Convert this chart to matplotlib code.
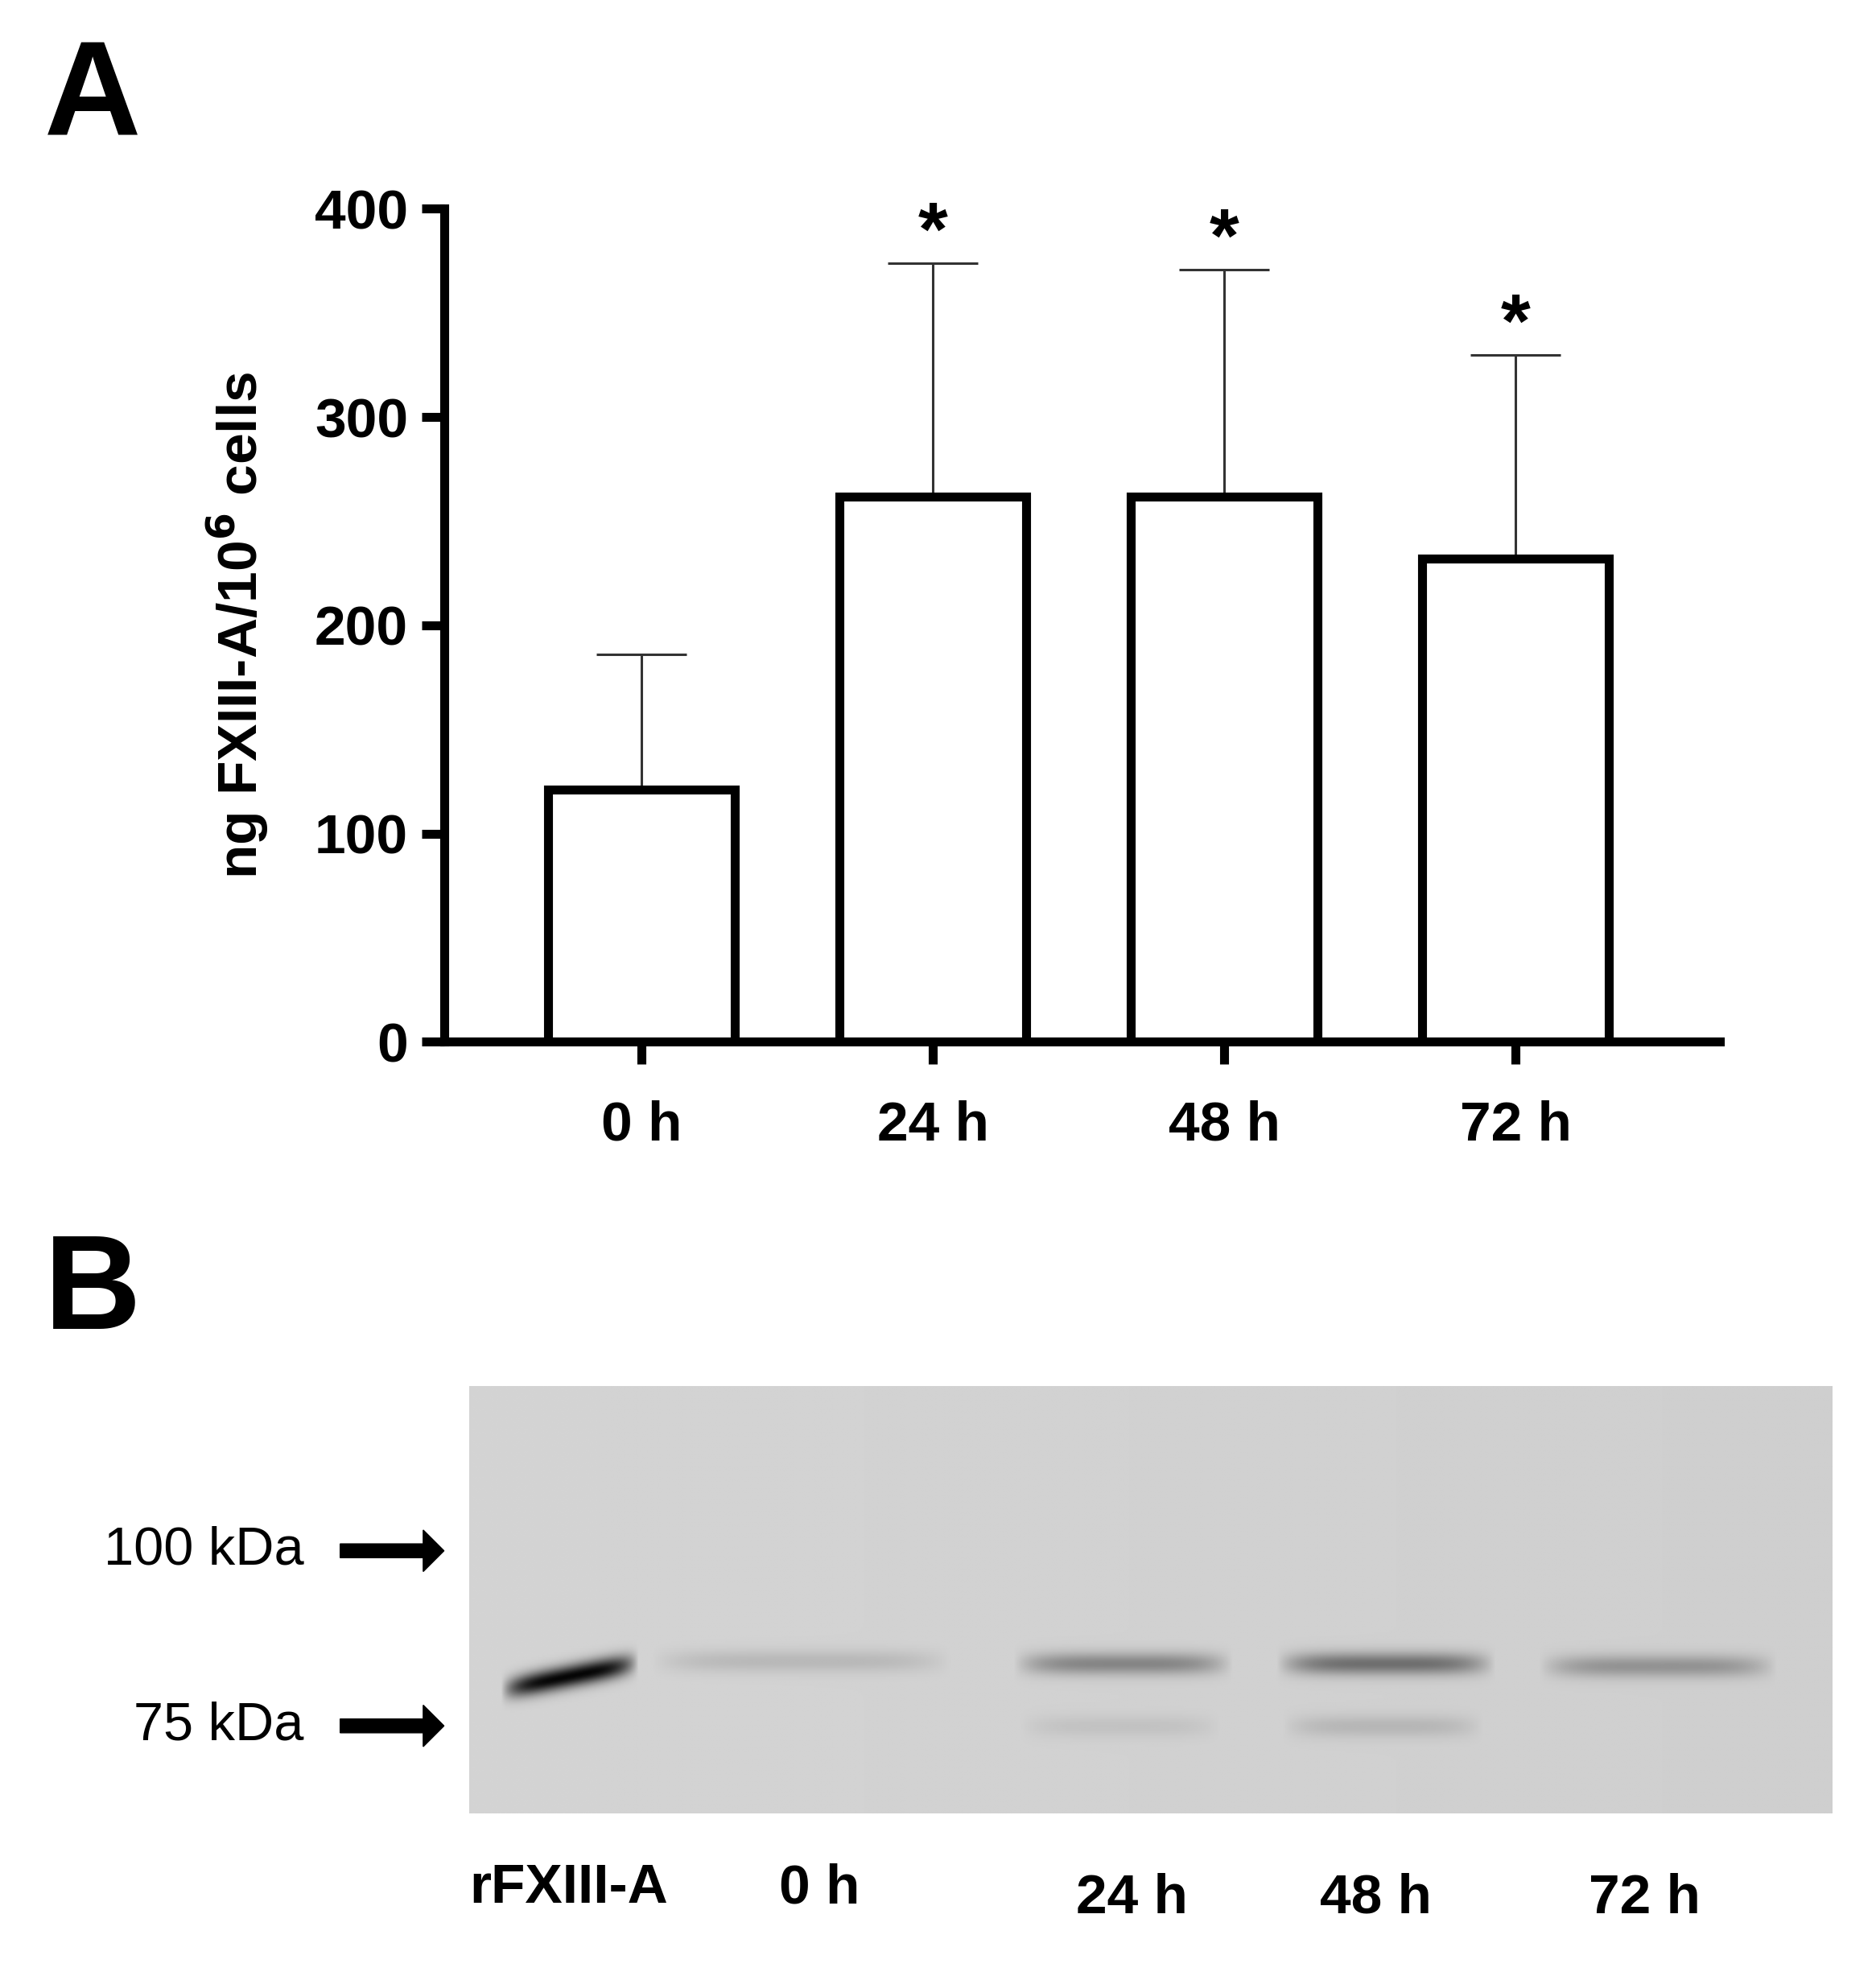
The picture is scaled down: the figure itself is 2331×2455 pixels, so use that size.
import matplotlib
matplotlib.use("Agg")
import matplotlib.pyplot as plt
import numpy as np

plt.rcParams["font.family"] = ["Liberation Sans", "DejaVu Sans"]
plt.rcParams["font.weight"] = "bold"
plt.rcParams["mathtext.default"] = "bf"

# panel A data
timepoints = ["0 h", "24 h", "48 h", "72 h"]
means = [121, 262, 262, 232]
sd_upper = [65, 112, 109, 98]
significant = [False, True, True, True]

# panel B gel: lane labels and band estimates (x-start, x-end, row, strength) in gel pixels
lane_labels = ["rFXIII-A", "0 h", "24 h", "48 h", "72 h"]
lane_label_x = [455, 655, 905, 1100, 1315]
bands = [
    (25, 135, 232, 0.95),
    (145, 385, 220, 0.12),
    (435, 610, 222, 0.35),
    (645, 820, 222, 0.45),
    (855, 1045, 224, 0.28),
    (440, 600, 272, 0.07),
    (650, 810, 272, 0.12),
]
markers = ["100 kDa", "75 kDa"]
marker_y = [1240, 1380]

W, H = 1500, 1580
fig = plt.figure(figsize=(23.31, 24.55), dpi=100)

def frac(x0, y0, x1, y1):
    return [x0 / W, 1 - y1 / H, (x1 - x0) / W, (y1 - y0) / H]

# ---- panel A
ax = fig.add_axes(frac(355, 167, 1375, 833))
pos = np.arange(len(means))
ax.bar(pos, means, width=0.64, facecolor="white", edgecolor="black", linewidth=8, zorder=3)
ax.errorbar(pos, means, yerr=[np.zeros(4), sd_upper], fmt="none", ecolor="#333333",
            elinewidth=2.2, capsize=40, capthick=2.2, zorder=2)
for p, m, s, sig in zip(pos, means, sd_upper, significant):
    if sig:
        ax.text(p, m + s - 4, "*", ha="center", va="bottom", fontsize=68)
ax.set_xlim(-0.678, 3.70)
ax.set_ylim(0, 400)
ax.set_yticks([0, 100, 200, 300, 400])
ax.set_xticks(pos)
ax.set_xticklabels(timepoints)
for s in ["top", "right"]:
    ax.spines[s].set_visible(False)
for s in ["left", "bottom"]:
    ax.spines[s].set_linewidth(8)
ax.tick_params(width=8, length=20, labelsize=50, pad=12)
ax.tick_params(axis="x", pad=32)
ax.set_ylabel("ng FXIII-A/10$^{6}$ cells", fontsize=50, fontweight="bold", labelpad=40)
fig.text(35 / W, 1 - 30 / H, "A", fontsize=120, va="top", ha="left")

# ---- panel B
gw, gh = 1090, 342
gy, gx = np.mgrid[0:gh, 0:gw]
img = np.full((gh, gw), 0.83) - 0.02 * gx / gw
for x0, x1, row, s in bands:
    cx, hw = (x0 + x1) / 2, (x1 - x0) / 2
    slope = -0.2 if x0 < 50 else 0.0
    r = row + slope * (gx - cx)
    prof = np.exp(-((gy - r) / 9.0) ** 2) * np.clip(1 - ((gx - cx) / hw) ** 4, 0, 1)
    img -= s * 0.85 * prof
img = np.clip(img, 0, 1)
gax = fig.add_axes(frac(375, 1108, 1465, 1450))
gax.imshow(img, cmap="gray", vmin=0, vmax=1, aspect="auto", interpolation="bilinear")
gax.axis("off")

for lab, y in zip(markers, marker_y):
    fig.text(243 / W, 1 - y / H, lab, fontsize=48, fontweight="normal", ha="right", va="center")
    fig.patches.append(plt.Arrow(272 / W, 1 - y / H, 83 / W, 0, width=0.035,
                                 transform=fig.transFigure, color="black"))
for lab, x in zip(lane_labels, lane_label_x):
    yy = 1510 if lab in ("rFXIII-A", "0 h") else 1518
    fig.text(x / W, 1 - yy / H, lab, fontsize=50, ha="center", va="center")
fig.text(35 / W, 1 - 985 / H, "B", fontsize=120, va="top", ha="left")

fig.savefig("out.png", dpi=100)
